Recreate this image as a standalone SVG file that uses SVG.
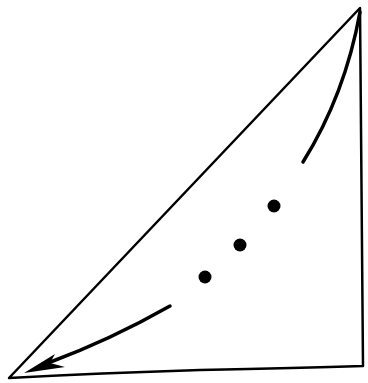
<svg xmlns="http://www.w3.org/2000/svg" width="368" height="383" viewBox="0 0 368 383">
<style>
.edge{fill:none;stroke:#000;stroke-linecap:round;stroke-linejoin:round}
.dot{fill:#000}
</style>
<rect width="368" height="383" fill="#fff"/>
<g id="triangle">
<path class="edge" stroke-width="2.5" d="M360,8 L363,366 Q300,368 200,370 Q100,373 9,378 Z"/>
</g>
<g id="connectors">
<path class="edge" stroke-width="3.5" d="M360,12 Q345,95 303,162"/>
<path class="edge" stroke-width="3.5" d="M170,306 Q110,340 48,363"/>
<path fill="#000" d="M24,373 L55,354 L50,363 L65,367 Z"/>
</g>
<g id="dots">
<circle class="dot" cx="274" cy="206" r="6.5"/>
<circle class="dot" cx="240" cy="245" r="6.5"/>
<circle class="dot" cx="205" cy="277" r="6.5"/>
</g>
</svg>
